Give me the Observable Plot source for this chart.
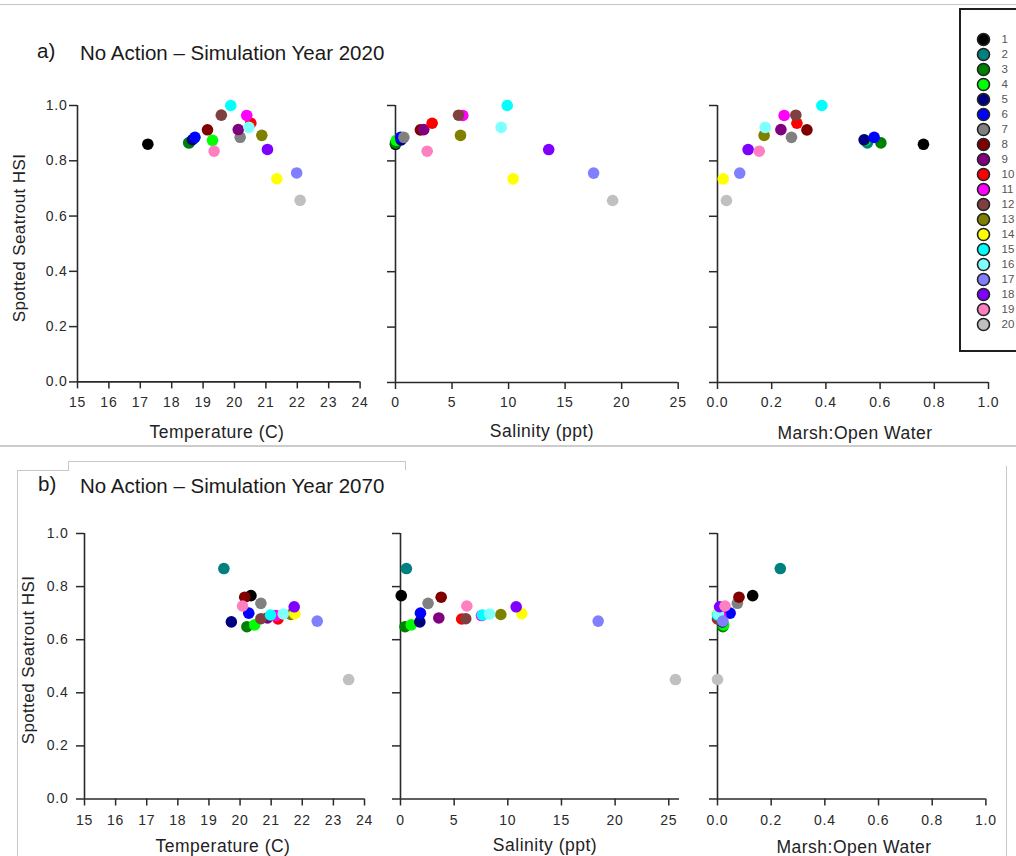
<!DOCTYPE html>
<html>
<head>
<meta charset="utf-8">
<script src="https://cdn.jsdelivr.net/npm/d3@7"></script>
<script src="https://cdn.jsdelivr.net/npm/@observablehq/plot@0.6"></script>
<style>
  html, body { margin: 0; padding: 0; background: #fff; overflow: hidden; }
  #page { position: relative; width: 1016px; height: 856px; font-family: "Liberation Sans", Arial, sans-serif; color: #1a1a1a; }
  .abs { position: absolute; }
  .ttl { font-size: 20.5px; white-space: nowrap; line-height: 1; }
  .axt { font-size: 17.5px; white-space: nowrap; transform: translate(-50%, -50%); letter-spacing: 0.5px; color: #222; }
  .ylab { font-size: 17px; white-space: nowrap; transform: translate(-50%, -50%) rotate(-90deg); letter-spacing: 0.4px; color: #222; }
  .hline { position: absolute; height: 0; }
  .vline { position: absolute; width: 0; }
</style>
</head>
<body>
<div id="page"></div>
<script>
// Sites 1–20 and their marker colours
const sites = [1, 2, 3, 4, 5, 6, 7, 8, 9, 10, 11, 12, 13, 14, 15, 16, 17, 18, 19, 20];
const siteColors = [
  "#000000", "#008080", "#008000", "#00ff00", "#000080",
  "#0000ff", "#808080", "#800000", "#800080", "#ff0000",
  "#ff00ff", "#804040", "#808000", "#ffff00", "#00ffff",
  "#80ffff", "#8080ff", "#8000ff", "#ff80c0", "#c0c0c0"
];

// Simulation year 2020
const hsi2020   = [0.860, 0.865, 0.865, 0.874, 0.876, 0.885, 0.885, 0.912, 0.913, 0.936, 0.964, 0.965, 0.892, 0.735, 1.000, 0.921, 0.756, 0.841, 0.835, 0.657];
const temp2020  = [17.24, 18.54, 18.56, 19.30, 18.66, 18.74, 20.18, 19.14, 20.12, 20.52, 20.39, 19.58, 20.87, 21.35, 19.88, 20.46, 21.98, 21.05, 19.35, 22.09];
const sal2020   = [0.00, 0.05, 0.00, 0.08, 0.50, 0.45, 0.74, 2.20, 2.50, 3.24, 5.95, 5.58, 5.75, 10.40, 9.88, 9.35, 17.52, 13.55, 2.80, 19.20];
const marsh2020 = [0.760, 0.553, 0.603, 0.545, 0.541, 0.578, 0.273, 0.330, 0.234, 0.293, 0.246, 0.289, 0.172, 0.021, 0.385, 0.176, 0.082, 0.113, 0.154, 0.033];

// Simulation year 2070
const hsi2070   = [0.766, 0.868, 0.649, 0.656, 0.667, 0.700, 0.737, 0.760, 0.682, 0.678, 0.691, 0.679, 0.695, 0.698, 0.693, 0.697, 0.670, 0.724, 0.727, 0.450];
const temp2070  = [20.35, 19.48, 20.22, 20.47, 19.72, 20.28, 20.67, 20.15, 20.88, 21.22, 21.15, 20.67, 21.63, 21.76, 20.98, 21.39, 22.48, 21.74, 20.08, 23.49];
const sal2070   = [0.07, 0.55, 0.42, 1.00, 1.80, 1.86, 2.57, 3.79, 3.57, 5.70, 7.55, 6.08, 9.35, 11.30, 7.63, 8.30, 18.42, 10.78, 6.18, 25.62];
const marsh2070 = [0.131, 0.234, 0.020, 0.023, 0.018, 0.047, 0.074, 0.080, 0.012, 0.000, 0.012, 0.002, 0.003, 0.000, 0.000, 0.003, 0.020, 0.008, 0.028, 0.000];

// Axis ticks
const tempTicks  = [15, 16, 17, 18, 19, 20, 21, 22, 23, 24];
const salTicks   = [0, 5, 10, 15, 20, 25];
const marshTicks = [0, 0.2, 0.4, 0.6, 0.8, 1.0];
const hsiTicks   = [0, 0.2, 0.4, 0.6, 0.8, 1.0];

const FONT = '"Liberation Sans", Arial, sans-serif';
const page = document.getElementById("page");

function place(el, left, top) {
  el.style.position = "absolute";
  el.style.left = left + "px";
  el.style.top = top + "px";
  page.appendChild(el);
  return el;
}

function addText(cls, text, left, top) {
  const d = document.createElement("div");
  d.className = "abs " + cls;
  d.textContent = text;
  d.style.left = left + "px";
  d.style.top = top + "px";
  page.appendChild(d);
  return d;
}

function line(cls, left, top, len, color, w) {
  const d = document.createElement("div");
  d.className = cls;
  d.style.left = left + "px";
  d.style.top = top + "px";
  if (cls === "hline") { d.style.width = len + "px"; d.style.borderTop = `${w}px solid ${color}`; }
  else { d.style.height = len + "px"; d.style.borderLeft = `${w}px solid ${color}`; }
  page.appendChild(d);
}

// One scatter panel: HSI against a single habitat variable
function scatter({xVals, hsi, xDomain, xTicks, xFormat, px0, px1, py1, py0, yLabels, yPad, xPad}) {
  const ml = 45, mr = 14, mt = 14, mb = 40;
  const data = sites.map((s, i) => ({site: s, x: xVals[i], y: hsi[i]}));
  const chart = Plot.plot({
    width: (px1 - px0) + ml + mr,
    height: (py0 - py1) + mt + mb,
    marginLeft: ml, marginRight: mr, marginTop: mt, marginBottom: mb,
    style: {background: "transparent", overflow: "visible", fontFamily: FONT, fontSize: "14px", letterSpacing: "0.8px", color: "#2a2a2a"},
    x: {domain: xDomain},
    y: {domain: [0, 1]},
    color: {type: "ordinal", domain: sites, range: siteColors},
    marks: [
      Plot.axisX({ticks: xTicks, tickSize: 7, tickPadding: xPad, tickFormat: xFormat, strokeWidth: 1.5, fontSize: 14, label: null}),
      Plot.axisY({ticks: hsiTicks, tickSize: 8, tickPadding: yPad, tickFormat: yLabels ? d3.format(".1f") : () => "", strokeWidth: 1.5, fontSize: 14, label: null}),
      Plot.ruleY([0], {stroke: "#2a2a2a", strokeWidth: 1.6}),
      Plot.ruleX([xDomain[0]], {stroke: "#2a2a2a", strokeWidth: 1.6}),
      Plot.dot(data, {x: "x", y: "y", fill: "site", r: 5.8})
    ]
  });
  place(chart, px0 - ml, py1 - mt);
}

// Page furniture lines
line("hline", 0, 4, 1016, "#c4c4c4", 1.5);
line("hline", 0, 445, 1016, "#cccccc", 2);
line("vline", 17, 470, 386, "#c8c8c8", 1.5);
line("hline", 17, 470, 51, "#c8c8c8", 1.5);
line("vline", 68, 461, 10, "#c8c8c8", 1.5);
line("hline", 68, 461, 337, "#c8c8c8", 1.5);
line("vline", 405, 461, 9, "#c8c8c8", 1.5);
line("vline", 1006, 466, 390, "#c8c8c8", 1.5);

// Panel a) 2020
addText("ttl", "a)", 37, 41);
addText("ttl", "No Action \u2013 Simulation Year 2020", 80, 43);
addText("ylab", "Spotted Seatrout HSI", 20, 238);

scatter({xVals: temp2020, hsi: hsi2020, xDomain: [15, 24], xTicks: tempTicks, xFormat: d3.format("d"),
  px0: 76.7, px1: 359.3, py1: 105.3, py0: 381.7, yLabels: true, yPad: 2, xPad: 8});
scatter({xVals: sal2020, hsi: hsi2020, xDomain: [0, 25], xTicks: salTicks, xFormat: d3.format("d"),
  px0: 395, px1: 677.7, py1: 104.5, py0: 381.5, yLabels: false, yPad: 2, xPad: 8});
scatter({xVals: marsh2020, hsi: hsi2020, xDomain: [0, 1], xTicks: marshTicks, xFormat: d3.format(".1f"),
  px0: 716.7, px1: 987.7, py1: 104.5, py0: 381.5, yLabels: false, yPad: 2, xPad: 8});

addText("axt", "Temperature (C)", 217, 432);
addText("axt", "Salinity (ppt)", 542, 431);
addText("axt", "Marsh:Open Water", 855, 433);

// Panel b) 2070
addText("ttl", "b)", 38, 474);
addText("ttl", "No Action \u2013 Simulation Year 2070", 80, 476);
addText("ylab", "Spotted Seatrout HSI", 29, 660);

scatter({xVals: temp2070, hsi: hsi2070, xDomain: [15, 24], xTicks: tempTicks, xFormat: d3.format("d"),
  px0: 84.3, px1: 364.3, py1: 533, py0: 798.5, yLabels: true, yPad: 8, xPad: 9});
scatter({xVals: sal2070, hsi: hsi2070, xDomain: [0, 26], xTicks: salTicks, xFormat: d3.format("d"),
  px0: 400, px1: 679, py1: 532.5, py0: 798, yLabels: false, yPad: 8, xPad: 9});
scatter({xVals: marsh2070, hsi: hsi2070, xDomain: [0, 1], xTicks: marshTicks, xFormat: d3.format(".1f"),
  px0: 717.3, px1: 985.7, py1: 532.5, py0: 798, yLabels: false, yPad: 8, xPad: 9});

addText("axt", "Temperature (C)", 223, 846);
addText("axt", "Salinity (ppt)", 545, 845);
addText("axt", "Marsh:Open Water", 854, 847);

// Site legend
const box = document.createElement("div");
box.style.cssText = "position:absolute;left:959px;top:8px;width:70px;height:344px;box-sizing:border-box;border:2px solid #1e1e1e;background:#fff;";
page.appendChild(box);

const legend = Plot.plot({
  width: 60, height: 344,
  margin: 0,
  style: {background: "transparent", overflow: "visible", fontFamily: FONT},
  x: {domain: [0, 1], range: [24, 42], axis: null},
  y: {type: "point", domain: sites, range: [17, 329], axis: null},
  color: {type: "ordinal", domain: sites, range: siteColors},
  marks: [
    Plot.dot(sites, {x: 0, y: d => d, fill: d => d, stroke: "#222", strokeWidth: 1.6, r: 6}),
    Plot.text(sites, {x: 1, y: d => d, text: d => String(d), textAnchor: "start", fill: "#555", fontSize: 11.5})
  ]
});
place(legend, 959, 8);
</script>
</body>
</html>
